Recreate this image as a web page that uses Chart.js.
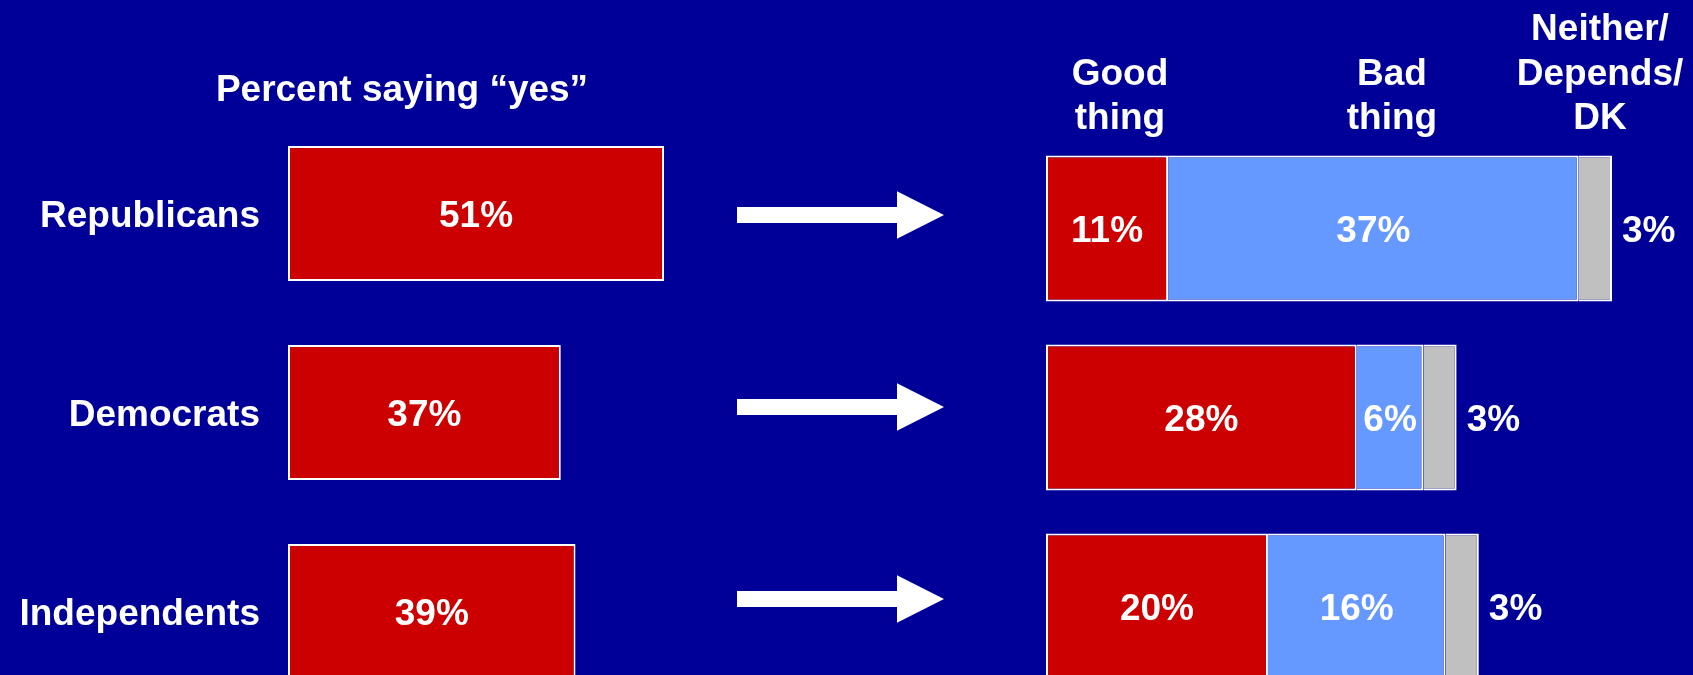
<!DOCTYPE html>
<html>
<head>
<meta charset="utf-8">
<script src="https://cdn.jsdelivr.net/npm/chart.js@4.4.0/dist/chart.umd.min.js"></script>
<style>
html,body{margin:0;padding:0;background:#000099;overflow:hidden;width:1693px;height:675px;}
#wrap{position:relative;width:1693px;height:675px;overflow:hidden;background:#000099;}
canvas{position:absolute;left:0;top:0;}
</style>
</head>
<body>
<div id="wrap">
<canvas id="leftChart" width="1693" height="760"></canvas>
<canvas id="rightChart" width="1693" height="760"></canvas>
</div>
<script>
// ---- data ----
const groups = ['Republicans', 'Democrats', 'Independents'];
const yesValues = [51, 37, 39];
const leftTitle = 'Percent saying \u201Cyes\u201D';
const responseNames = [['Good', 'thing'], ['Bad', 'thing'], ['Neither/', 'Depends/', 'DK']];
const goodValues = [11, 28, 20];
const badValues = [37, 6, 16];
const neitherValues = [3, 3, 3];

// ---- styling ----
const FONT_SIZE = 37;
const FONT = 'bold ' + FONT_SIZE + 'px "Liberation Sans", Arial, Helvetica, sans-serif';
const WHITE = '#FFFFFF';
const RED = '#CC0000';
const BLUE = '#6699FF';
const GRAY = '#C0C0C0';
const CAP_OFFSET = FONT_SIZE * 0.358; // to vertically centre cap-height text

const labelPlugin = {
  id: 'labelPlugin',
  afterDatasetsDraw(chart, args, opts) {
    const ctx = chart.ctx;
    ctx.save();
    ctx.font = FONT;
    ctx.fillStyle = WHITE;
    ctx.textBaseline = 'alphabetic';
    chart.data.datasets.forEach((ds, di) => {
      const meta = chart.getDatasetMeta(di);
      meta.data.forEach((el, i) => {
        const v = ds.data[i];
        const txt = v + '%';
        if (ds.labelOutside) {
          ctx.textAlign = 'left';
          ctx.fillText(txt, el.x + 10, el.y + CAP_OFFSET);
        } else {
          ctx.textAlign = 'center';
          ctx.fillText(txt, (el.x + el.base) / 2, el.y + CAP_OFFSET);
        }
      });
    });
    // category labels
    if (opts.categoryLabels) {
      const ys = chart.scales.y;
      ctx.textAlign = 'right';
      chart.data.labels.forEach((lab, i) => {
        ctx.fillText(lab, opts.categoryLabelRight, ys.getPixelForValue(i) + CAP_OFFSET);
      });
    }
    // title
    if (opts.title) {
      ctx.textAlign = 'center';
      ctx.fillText(opts.title, opts.titleX, opts.titleBaseline);
    }
    // multi-line headers
    if (opts.headers) {
      ctx.textAlign = 'center';
      opts.headers.forEach((lines, k) => {
        const n = lines.length;
        lines.forEach((ln, j) => {
          ctx.fillText(ln, opts.headerX[k], opts.headerBaseline - (n - 1 - j) * opts.headerLineHeight);
        });
      });
    }
    // arrows
    if (opts.arrows) {
      const a = opts.arrows;
      ctx.fillStyle = WHITE;
      a.ys.forEach(y => {
        ctx.beginPath();
        ctx.moveTo(a.x0, y - a.shaft / 2);
        ctx.lineTo(a.headX, y - a.shaft / 2);
        ctx.lineTo(a.headX, y - a.head);
        ctx.lineTo(a.tipX, y);
        ctx.lineTo(a.headX, y + a.head);
        ctx.lineTo(a.headX, y + a.shaft / 2);
        ctx.lineTo(a.x0, y + a.shaft / 2);
        ctx.closePath();
        ctx.fill();
      });
    }
    ctx.restore();
  }
};

// ---- left chart ----
const LPX = 376 / 51; // px per percent
const LMAX = 60;
new Chart(document.getElementById('leftChart'), {
  type: 'bar',
  data: {
    labels: groups,
    datasets: [{
      data: yesValues,
      backgroundColor: RED,
      borderColor: WHITE,
      borderWidth: 2,
      borderSkipped: false,
      barPercentage: 135 / 199,
      categoryPercentage: 1
    }]
  },
  options: {
    indexAxis: 'y',
    responsive: false,
    animation: false,
    layout: { padding: { left: 288, top: 114, right: 1693 - (288 + LMAX * LPX), bottom: 760 - 711 } },
    scales: {
      x: { display: false, min: 0, max: LMAX },
      y: { display: false }
    },
    plugins: {
      legend: { display: false },
      tooltip: { enabled: false },
      labelPlugin: {
        categoryLabels: true,
        categoryLabelRight: 260,
        title: leftTitle,
        titleX: 402,
        titleBaseline: 101,
        arrows: { ys: [215, 407, 599], x0: 737, headX: 897, tipX: 944, shaft: 16, head: 23.7 }
      }
    }
  },
  plugins: [labelPlugin]
});

// ---- right chart ----
const RPX = 566 / 51;
const RMAX = 55;
new Chart(document.getElementById('rightChart'), {
  type: 'bar',
  data: {
    labels: groups,
    datasets: [
      { data: goodValues, backgroundColor: RED, borderColor: WHITE, borderWidth: 2, borderSkipped: false,
        barPercentage: 146 / 189, categoryPercentage: 1 },
      { data: badValues, backgroundColor: BLUE, borderColor: WHITE, borderWidth: 2, borderSkipped: 'start',
        barPercentage: 146 / 189, categoryPercentage: 1 },
      { data: neitherValues, backgroundColor: GRAY, borderColor: WHITE, borderWidth: 2, borderSkipped: 'start',
        barPercentage: 146 / 189, categoryPercentage: 1, labelOutside: true }
    ]
  },
  options: {
    indexAxis: 'y',
    responsive: false,
    animation: false,
    layout: { padding: { left: 1046, top: 134, right: 1693 - (1046 + RMAX * RPX), bottom: 760 - 701 } },
    scales: {
      x: { display: false, stacked: true, min: 0, max: RMAX },
      y: { display: false, stacked: true }
    },
    plugins: {
      legend: { display: false },
      tooltip: { enabled: false },
      labelPlugin: {
        headers: responseNames,
        headerX: [1120, 1392, 1600],
        headerBaseline: 129,
        headerLineHeight: 44.5
      }
    }
  },
  plugins: [labelPlugin]
});
</script>
</body>
</html>
